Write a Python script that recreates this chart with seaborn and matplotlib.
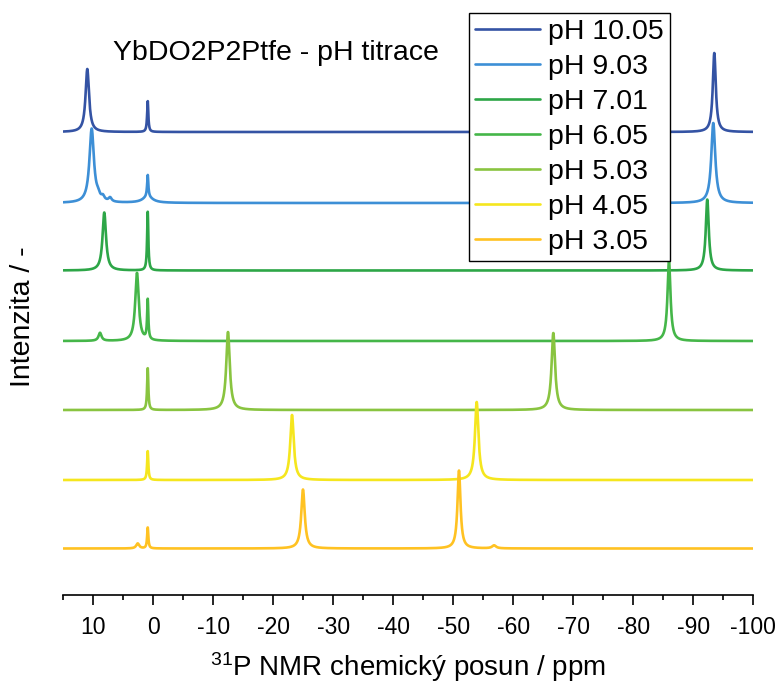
import numpy as np
import pandas as pd
import seaborn as sns
import matplotlib.pyplot as plt
from matplotlib.ticker import MultipleLocator

# spectra, top to bottom
labels = ["pH 10.05", "pH 9.03", "pH 7.01", "pH 6.05", "pH 5.03", "pH 4.05", "pH 3.05"]
colors = ["#3453A4", "#3D8FD6", "#2DA647", "#45B649", "#89C440", "#F5E61E", "#FFC222"]
offsets = [463, 392, 324.5, 254, 185, 115, 46.5]

# peaks: position (ppm), height, half width (ppm)
peak_pos = [
    [11.0, 0.93, -93.5],
    [10.27, 9.2, 8.4, 7.2, 0.93, 0.93, -93.33],
    [8.17, 0.93, -92.33],
    [8.88, 2.72, 0.93, -85.95],
    [0.93, -12.45, -66.67],
    [0.93, -23.12, -53.9],
    [2.6, 0.93, -24.95, -50.95, -56.8],
]
peak_height = [
    [63, 31, 79],
    [74, 4, 4, 4, 22, 6, 80],
    [58, 59, 71],
    [8, 68, 40, 80],
    [42, 78, 77],
    [29, 65, 78],
    [5, 21, 59, 78, 3],
]
peak_width = [
    [0.35, 0.12, 0.3],
    [0.45, 0.3, 0.3, 0.3, 0.12, 1.0, 0.4],
    [0.35, 0.12, 0.3],
    [0.3, 0.35, 0.12, 0.3],
    [0.12, 0.35, 0.35],
    [0.12, 0.35, 0.35],
    [0.3, 0.12, 0.35, 0.3, 0.4],
]

ppm = np.linspace(15, -100, 5751)

frames = []
for lab, off, pos, hgt, wid in zip(labels, offsets, peak_pos, peak_height, peak_width):
    y = np.full_like(ppm, off, dtype=float)
    for p, h, w in zip(pos, hgt, wid):
        y += h / (1 + ((ppm - p) / w) ** 2)
    frames.append(pd.DataFrame({"ppm": ppm, "intensity": y, "sample": lab}))
df = pd.concat(frames, ignore_index=True)

sns.set_style("ticks")
plt.rcParams["font.family"] = ["Liberation Sans", "DejaVu Sans"]
plt.rcParams["mathtext.default"] = "regular"
plt.rcParams["text.color"] = "black"
plt.rcParams["axes.labelcolor"] = "black"
plt.rcParams["xtick.color"] = "black"

fig = plt.figure(figsize=(7.79, 6.84), dpi=100)
ax = fig.add_axes([63.3 / 779, 1 - 595 / 684, 690 / 779, 587 / 684])

sns.lineplot(data=df, x="ppm", y="intensity", hue="sample", hue_order=labels,
             palette=colors, estimator=None, sort=False, linewidth=1.9, ax=ax)

ax.set_xlim(15, -100)
ax.set_ylim(0, 587)
ax.xaxis.set_major_locator(MultipleLocator(10))
ax.xaxis.set_minor_locator(MultipleLocator(5))
ax.set_yticks([])
for s in ["left", "top", "right"]:
    ax.spines[s].set_visible(False)
ax.spines["bottom"].set_linewidth(1.2)
ax.spines["bottom"].set_color("black")
ax.tick_params(axis="x", which="major", length=7, width=1.2, labelsize=16.5,
               color="black", labelcolor="black", pad=8)
ax.tick_params(axis="x", which="minor", length=3.5, width=1.2, color="black")
ax.set_xticklabels([f"{int(t)}" for t in ax.get_xticks()])
ax.set_xlabel(r"$^{31}$P NMR chemický posun / ppm", fontsize=20, labelpad=8)
ax.set_ylabel("")

fig.text(23 / 779, 1 - 317 / 684, "Intenzita / -", rotation=90, fontsize=20.5,
         ha="center", va="center")
fig.text(113 / 779, 1 - 60 / 684, "YbDO2P2Ptfe - pH titrace", fontsize=20.5,
         ha="left", va="baseline")

sns.move_legend(ax, "upper left", bbox_to_anchor=(469 / 779, 1 - 13 / 684),
                bbox_transform=fig.transFigure, borderaxespad=0, title=None,
                frameon=True, fancybox=False, framealpha=1, edgecolor="black",
                fontsize=20.5, handlelength=2.3, handletextpad=0.28,
                labelspacing=0.32, borderpad=0.2)
ax.get_legend().get_frame().set_linewidth(1.0)

fig.savefig("out.png", dpi=100)
